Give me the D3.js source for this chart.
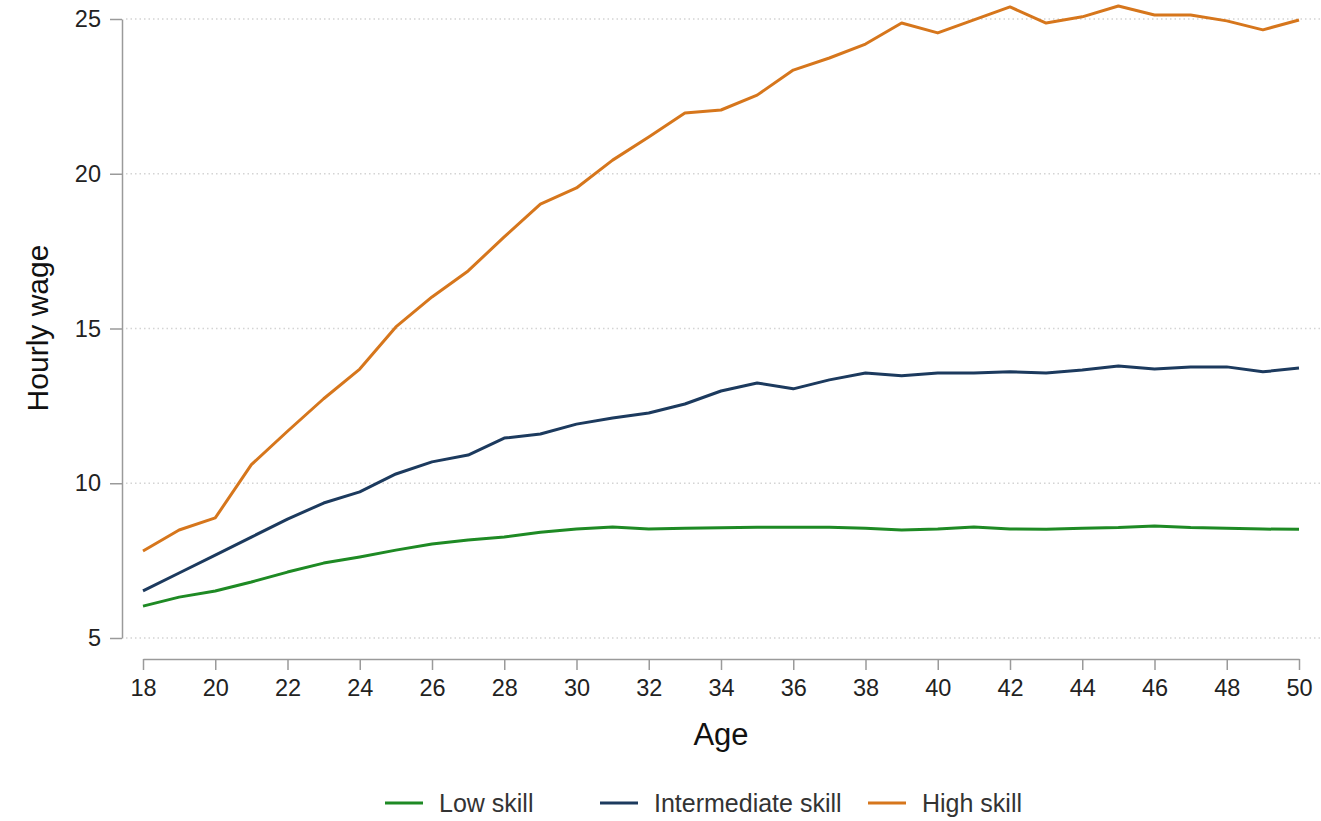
<!DOCTYPE html>
<html>
<head>
<meta charset="utf-8">
<script src="https://cdn.jsdelivr.net/npm/d3@7"></script>
<style>
  body { margin: 0; background: #fff; }
  text { font-family: "Liberation Sans", Arial, Helvetica, sans-serif; }
</style>
</head>
<body>
<div id="container"></div>
<script>
/* DATA */
const ages = d3.range(18, 51)

const lowSkill = [6.03, 6.32, 6.52, 6.81, 7.13, 7.42, 7.62, 7.84, 8.04, 8.17, 8.26,
  8.42, 8.52, 8.59, 8.52, 8.55, 8.56, 8.58, 8.58, 8.58, 8.55, 8.49, 8.52, 8.59,
  8.52, 8.51, 8.55, 8.57, 8.62, 8.57, 8.55, 8.52, 8.51]

const intermediateSkill = [6.52, 7.1, 7.68, 8.26, 8.84, 9.36, 9.72, 10.3, 10.69, 10.91,
  11.46, 11.59, 11.91, 12.11, 12.27, 12.56, 12.98, 13.24, 13.05, 13.34, 13.56, 13.47,
  13.56, 13.56, 13.6, 13.56, 13.66, 13.79, 13.69, 13.76, 13.76, 13.6, 13.72]

const highSkill = [7.81, 8.49, 8.88, 10.6, 11.68, 12.73, 13.69, 15.05, 16.02, 16.86,
  17.96, 19.02, 19.54, 20.44, 21.19, 21.96, 22.06, 22.54, 23.35, 23.74, 24.19, 24.87,
  24.55, 24.97, 25.39, 24.87, 25.07, 25.42, 25.13, 25.13, 24.94, 24.65, 24.97]

const seriesNames = ["Low skill", "Intermediate skill", "High skill"]
const seriesColors = ["#1e8a24", "#1c3a5e", "#d6761c"]
const yTicks = [5, 10, 15, 20, 25]
const xTicks = d3.range(18, 51, 2)

/* CONSTANTS */
const width = 1321,
  height = 821

const xScale = d3.scaleLinear()
  .domain([18, 50])
  .range([143, 1299])

const yScale = d3.scaleLinear()
  .domain([5, 25])
  .range([638, 19])

const svg = d3.select("#container")
  .append("svg")
  .attr("width", width)
  .attr("height", height)

// gridlines
svg.selectAll(".grid")
  .data(yTicks)
  .join("line")
  .attr("class", "grid")
  .attr("x1", 126)
  .attr("x2", width)
  .attr("y1", d => yScale(d))
  .attr("y2", d => yScale(d))
  .attr("stroke", "#d4d4d4")
  .attr("stroke-width", 1.5)
  .attr("stroke-dasharray", "1.5,3")

// y axis
const yAxisGroup = svg.append("g")
  .attr("transform", "translate(122,0)")
  .call(d3.axisLeft(yScale).tickValues(yTicks).tickSize(12).tickSizeOuter(0).tickPadding(9))
yAxisGroup.selectAll("path, line").attr("stroke", "#9a9a9a").attr("stroke-width", 1.5)
yAxisGroup.selectAll("text").attr("font-size", 23.5).attr("fill", "#222")
  .style("font-family", "'Liberation Sans', Arial, sans-serif")

// x axis
const xAxisGroup = svg.append("g")
  .attr("transform", "translate(0,659)")
  .call(d3.axisBottom(xScale).tickValues(xTicks).tickSize(11).tickSizeOuter(0).tickPadding(9))
xAxisGroup.selectAll("path, line").attr("stroke", "#9a9a9a").attr("stroke-width", 1.5)
xAxisGroup.selectAll("text").attr("font-size", 23.5).attr("fill", "#222")
  .style("font-family", "'Liberation Sans', Arial, sans-serif")

// axis titles
svg.append("text")
  .attr("transform", "rotate(-90)")
  .attr("x", -328)
  .attr("y", 48)
  .attr("text-anchor", "middle")
  .attr("font-size", 30)
  .attr("fill", "#111")
  .text("Hourly wage")

svg.append("text")
  .attr("x", 721)
  .attr("y", 745)
  .attr("text-anchor", "middle")
  .attr("font-size", 31)
  .attr("fill", "#111")
  .text("Age")

// lines
const lineGen = d3.line()
  .x((d, i) => xScale(ages[i]))
  .y(d => yScale(d))

const allSeries = [lowSkill, intermediateSkill, highSkill]

svg.selectAll(".line")
  .data(allSeries)
  .join("path")
  .attr("class", "line")
  .attr("fill", "none")
  .attr("stroke", (d, i) => seriesColors[i])
  .attr("stroke-width", 3)
  .attr("stroke-linejoin", "round")
  .attr("d", d => lineGen(d))

// legend
const legendX = [385, 600, 868]
const legend = svg.selectAll(".legend")
  .data(seriesNames)
  .join("g")
  .attr("class", "legend")
  .attr("transform", (d, i) => `translate(${legendX[i]}, 803)`)

legend.append("line")
  .attr("x1", 0)
  .attr("x2", 38)
  .attr("stroke", (d, i) => seriesColors[i])
  .attr("stroke-width", 3)

legend.append("text")
  .attr("x", 54)
  .attr("dy", "0.36em")
  .attr("font-size", 25)
  .attr("fill", "#333")
  .text(d => d)
</script>
</body>
</html>
